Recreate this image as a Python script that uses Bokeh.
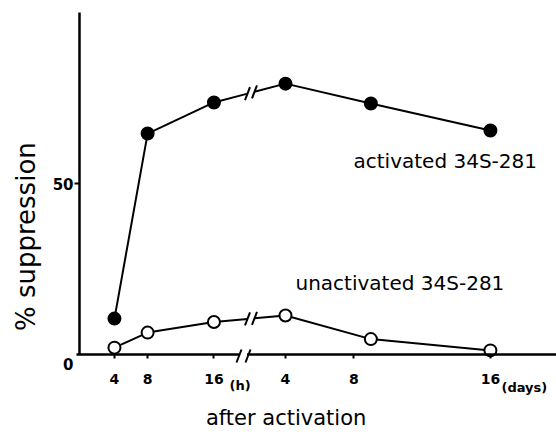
import numpy as np
from bokeh.plotting import figure
from bokeh.models import Range1d, FixedTicker, CustomLabelingPolicy
from bokeh.embed import file_html
from bokeh.resources import INLINE
from bokeh.core.properties import value

# ---------------- data ----------------
hour_times = [4, 8, 16]          # hours after activation
day_times = [4, 9, 16]           # days after activation
activated_hours = [10.5, 64.6, 73.7]
activated_days = [79.2, 73.4, 65.5]
unactivated_hours = [2.0, 6.4, 9.5]
unactivated_days = [11.4, 4.5, 1.2]
hour_ticks = [4, 8, 16]
day_ticks = [4, 8, 16]
hour_tick_labels = ["4", "8", "16"]
day_tick_labels = ["4", "8", "16"]
y_ticks = [0, 50]
y_tick_labels = ["0", "50"]

# broken axis: hours segment, then days segment (scaled) on one coordinate
DAY_OFFSET = 16.39
DAY_SCALE = 2.06


def day_pos(d):
    return DAY_OFFSET + DAY_SCALE * np.asarray(d, dtype=float)


# layout helpers (page pixel -> data coordinate), used only for placement
PX_U0, PX_PER_U = 80.8, 8.29
PY_Y0, PY_PER_Y = 354.0, 3.42


def ux(px):
    return (px - PX_U0) / PX_PER_U


def vy(py):
    return (PY_Y0 - py) / PY_PER_Y


W, H = 556, 434
BL, BB = 8, 4
FONT = value("DejaVu Sans")

p = figure(width=W, height=H, output_backend="svg", toolbar_location=None,
           x_range=Range1d(ux(BL), ux(W)), y_range=Range1d(vy(H - BB), vy(0)),
           min_border_left=BL, min_border_right=0, min_border_top=0,
           min_border_bottom=BB)
p.outline_line_color = None
p.xgrid.grid_line_color = None
p.ygrid.grid_line_color = None
p.background_fill_color = "white"

# axes: drawn at the data origin; their tick labels are written as text below
for ax in (p.xaxis[0], p.yaxis[0]):
    ax.axis_line_width = 2.5
    ax.axis_line_color = "black"
    ax.major_tick_line_color = "black"
    ax.major_tick_line_width = 2
    ax.major_tick_in = 0
    ax.minor_tick_line_color = None
    ax.major_label_text_font_size = "1px"
    ax.major_label_standoff = 0
    ax.major_label_policy = CustomLabelingPolicy(code="return []")

AXIS_X = ux(79)
tick_pos = [float(t) for t in hour_ticks] + [float(t) for t in day_pos(day_ticks)]
tick_lab = hour_tick_labels + day_tick_labels
p.xaxis.ticker = FixedTicker(ticks=tick_pos)
p.xaxis.major_tick_out = 4
p.xaxis.fixed_location = 0
p.xaxis.bounds = (ux(76), ux(W))

p.yaxis.ticker = FixedTicker(ticks=[50])
p.yaxis.major_tick_out = 5
p.yaxis.fixed_location = AXIS_X
p.yaxis.bounds = (0, 100)

# tick labels
p.text(x=tick_pos, y=[vy(378)] * len(tick_pos), text=tick_lab, text_font=FONT,
       text_font_size="14px", text_font_style="bold", text_align="center",
       text_baseline="middle", text_color="black")
p.text(x=[ux(73), ux(73)], y=[vy(363), 50], text=y_tick_labels, text_font=FONT,
       text_font_size="15px", text_font_style="bold", text_align="right",
       text_baseline="middle", text_color="black")
p.text(x=[ux(229), ux(501)], y=[vy(385), vy(387)], text=["(h)", "(days)"],
       text_font=FONT, text_font_size="13px", text_font_style="bold",
       text_align="left", text_baseline="middle", text_color="black")

# ---------------- series with break ----------------
GAP_L, GAP_R = ux(247), ux(254)
slash_dx, slash_dy = 2.5 / PX_PER_U, 6.5 / PY_PER_Y


def draw_series(hours_vals, days_vals, filled):
    hx = np.asarray(hour_times, dtype=float)
    dx = day_pos(day_times)
    p.line(hx, hours_vals, line_color="black", line_width=2)
    p.line(dx, days_vals, line_color="black", line_width=2)
    x_a, y_a = hx[-1], hours_vals[-1]
    x_b, y_b = dx[0], days_vals[0]
    y_l = np.interp(GAP_L, [x_a, x_b], [y_a, y_b])
    y_r = np.interp(GAP_R, [x_a, x_b], [y_a, y_b])
    p.segment(x0=[x_a, GAP_R], y0=[y_a, y_r], x1=[GAP_L, x_b], y1=[y_l, y_b],
              line_color="black", line_width=2)
    p.segment(x0=[GAP_L - slash_dx, GAP_R - slash_dx], y0=[y_l - slash_dy, y_r - slash_dy],
              x1=[GAP_L + slash_dx, GAP_R + slash_dx], y1=[y_l + slash_dy, y_r + slash_dy],
              line_color="black", line_width=2)
    xs = np.concatenate([hx, dx])
    ys = list(hours_vals) + list(days_vals)
    p.scatter(xs, ys, marker="circle", size=12,
              fill_color="black" if filled else "white",
              line_color="black", line_width=2)


draw_series(activated_hours, activated_days, True)
draw_series(unactivated_hours, unactivated_days, False)

# x-axis break marks
p.quad(left=[ux(239.5)], right=[ux(246.5)], bottom=[vy(356.5)], top=[vy(351.5)],
       fill_color="white", line_color=None, level="overlay")
p.segment(x0=[ux(236), ux(245)], y0=[vy(362), vy(362)],
          x1=[ux(241), ux(250)], y1=[vy(349), vy(349)],
          line_color="black", line_width=2, level="overlay")

# ---------------- texts ----------------
p.text(x=[ux(353), ux(295)], y=[vy(160), vy(282)],
       text=["activated 34S-281", "unactivated 34S-281"], text_font=FONT,
       text_font_size="20px", text_align="left", text_baseline="middle",
       text_color="black")
p.text(x=[ux(25)], y=[vy(232)], text=["%  suppression"], angle=np.pi / 2,
       text_font=FONT, text_font_size="26px", text_align="center",
       text_baseline="middle", text_color="black")
p.text(x=[ux(289)], y=[vy(417)], text=["after  activation"], text_font=FONT,
       text_font_size="21px", text_align="center", text_baseline="middle",
       text_color="black")

open("out.html", "w").write(file_html(p, INLINE))
